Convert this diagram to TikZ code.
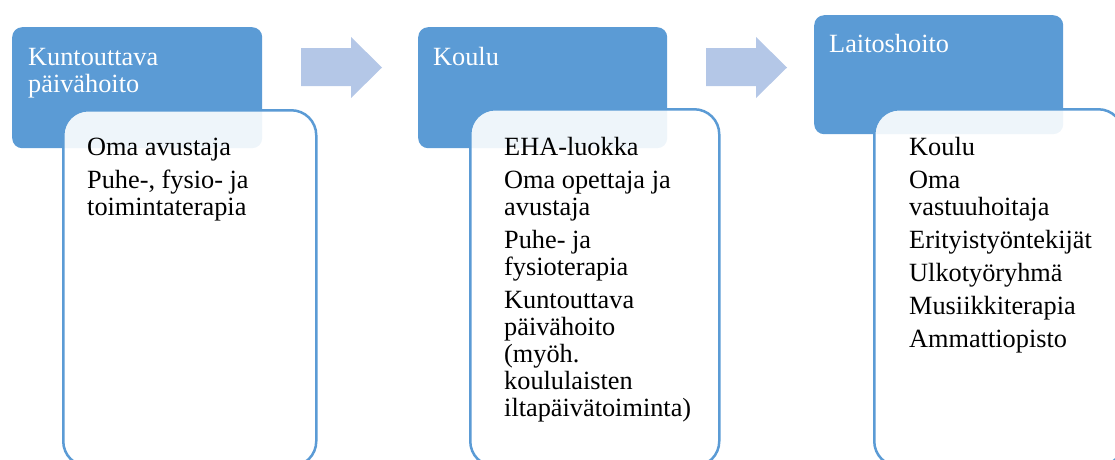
\documentclass[tikz,border=0pt]{standalone}
\usepackage{fontspec}
\setmainfont{Liberation Serif}
\definecolor{stageblue}{HTML}{5B9BD5}
\definecolor{arrowblue}{HTML}{B4C7E7}
\tikzset{
  stagebox/.style={rectangle, anchor=north west, inner sep=0pt, fill=stageblue, rounded corners=10pt},
  detailbox/.style={rectangle, anchor=north west, inner sep=0pt, fill=white, fill opacity=0.9,
    draw=stageblue, draw opacity=1, line width=2.5pt, rounded corners=25pt},
  headtext/.style={anchor=base west, inner sep=0pt, text=white, font=\fontsize{26.3}{27}\selectfont},
  listtext/.style={anchor=base west, inner sep=0pt, text=black, font=\fontsize{26.3}{27}\selectfont},
  stagearrow/.style={fill=arrowblue, draw=none}
}
\newcommand{\itemlist}[1]{\renewcommand{\arraystretch}{1}\begin{tabular}[t]{@{}l@{}}#1\end{tabular}}
\begin{document}
\begin{tikzpicture}[x=1pt, y=-1pt]
  \useasboundingbox (0,0) rectangle (1115,459);
  \clip (0,0) rectangle (1115,459);

  % stage 1
  \node[stagebox, minimum width=250pt, minimum height=121pt] (s1) at (12,27) {};
  \node[detailbox, minimum width=253pt, minimum height=356pt] (d1) at (62,109) {};
  \node[headtext] (h1) at (28,65) {\itemlist{Kuntouttava\\päivähoito}};
  \node[listtext] (l1) at (87,155) {\itemlist{Oma avustaja\\[6pt]Puhe-, fysio- ja\\toimintaterapia}};

  % stage 2
  \node[stagebox, minimum width=249pt, minimum height=121pt] (s2) at (418,27) {};
  \node[detailbox, minimum width=249pt, minimum height=357pt] (d2) at (469,108) {};
  \node[headtext] (h2) at (433,65) {Koulu};
  \node[listtext] (l2) at (504,155) {\itemlist{EHA-luokka\\[6pt]Oma opettaja ja\\avustaja\\[6pt]Puhe- ja\\fysioterapia\\[6pt]Kuntouttava\\päivähoito\\(myöh.\\koululaisten\\iltapäivätoiminta)}};

  % stage 3
  \node[stagebox, minimum width=249pt, minimum height=119pt] (s3) at (814,15) {};
  \node[detailbox, minimum width=249pt, minimum height=357pt] (d3) at (873,108) {};
  \node[headtext] (h3) at (829,52) {Laitoshoito};
  \node[listtext] (l3) at (909,155) {\itemlist{Koulu\\[6pt]Oma\\vastuuhoitaja\\[6pt]Erityistyöntekijät\\[6pt]Ulkotyöryhmä\\[6pt]Musiikkiterapia\\[6pt]Ammattiopisto}};

  % block arrows between the stages
  \fill[stagearrow] (301,48) -- (351,48) -- (351,37) -- (382,67.5) -- (351,98) -- (351,86) -- (301,86) -- cycle;
  \fill[stagearrow] (706,48) -- (756,48) -- (756,37) -- (787,67.5) -- (756,98) -- (756,86) -- (706,86) -- cycle;
\end{tikzpicture}
\end{document}
